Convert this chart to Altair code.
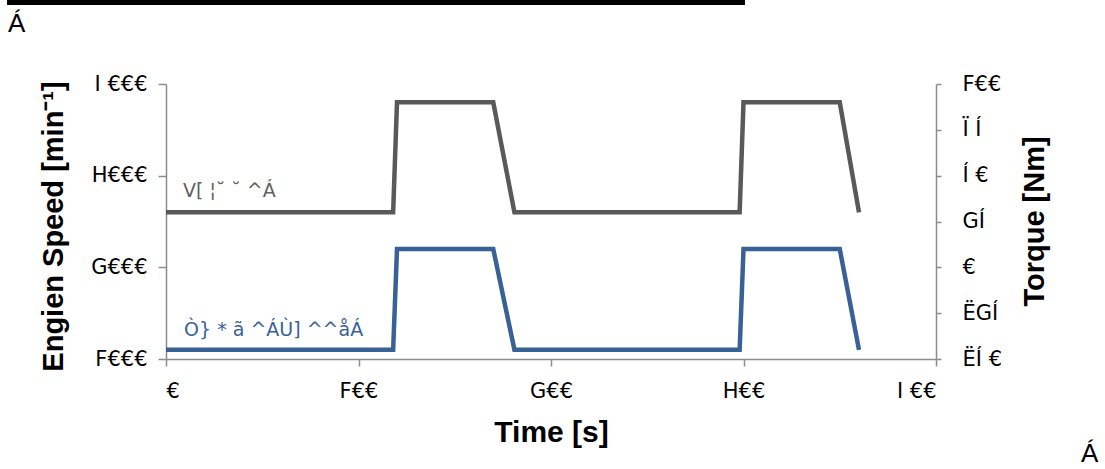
import altair as alt
import pandas as pd

# Cycle profile: engine speed (left axis) and torque (right axis) over time
time_s = [0, 118, 120, 170, 181, 298, 300, 350, 360]
speed_rpm = [1100, 1100, 2200, 2200, 1100, 1100, 2200, 2200, 1100]
torque_nm = [30, 30, 90, 90, 30, 30, 90, 90, 30]

# Tick values and the label strings shown for them
x_ticks = [0, 100, 200, 300, 400]
x_tick_labels = ["€", "F€€", "G€€", "H€€", "I €€"]
speed_ticks = [1000, 2000, 3000, 4000]
speed_tick_labels = ["F€€€", "G€€€", "H€€€", "I €€€"]
torque_ticks = [-50, -25, 0, 25, 50, 75, 100]
torque_tick_labels = ["ËÍ €", "ËGÍ", "€", "GÍ", "Í €", "Ï Í", "F€€"]

speed_series_label = "Ò} * ã ^ÁÙ] ^^åÁ"
torque_series_label = "V[ ¦˘ ˘ ^Á"

GRAY = "#595959"
BLUE = "#386195"
AXIS = "#8c8c8c"
FONT = "Liberation Sans"
LABEL_FONT = "DejaVu Sans"

df = pd.DataFrame({"t": time_s, "speed": speed_rpm, "torque": torque_nm})


def label_expr(values, labels):
    expr = "''"
    for v, l in zip(values, labels):
        expr = f"datum.value == {v} ? '{l}' : ({expr})"
    return expr


x_enc = alt.X(
    "t:Q",
    scale=alt.Scale(domain=[0, 400], nice=False),
    axis=alt.Axis(
        values=x_ticks,
        labelExpr=label_expr(x_ticks, x_tick_labels),
        title="Time [s]",
        titleFontSize=30,
        titleFont=FONT,
        titleFontWeight="bold",
        titleY=82,
        titleBaseline="alphabetic",
        labelPadding=14,
        tickSize=7,
    ),
)

speed_line = alt.Chart(df).mark_line(color=BLUE, strokeWidth=4.5).encode(
    x=x_enc,
    y=alt.Y(
        "speed:Q",
        scale=alt.Scale(domain=[1000, 4000], nice=False),
        axis=alt.Axis(
            orient="left",
            values=speed_ticks,
            labelExpr=label_expr(speed_ticks, speed_tick_labels),
            title="Engien Speed [min⁻¹]",
            titleFontSize=29,
            titleFont=FONT,
            titleFontWeight="bold",
            titleAngle=-90,
            titleAlign="center",
            titleBaseline="alphabetic",
            titleX=-104,
            titleY=142,
            labelPadding=11,
            tickSize=8,
        ),
    ),
)

label_src = alt.Data(values=[{"k": 0}])

speed_label = alt.Chart(label_src).mark_text(
    text=speed_series_label, color=BLUE, font=LABEL_FONT, fontSize=19,
    align="left", baseline="alphabetic",
).encode(x=alt.datum(9.4), y=alt.datum(1254))

# Thin frame decorations around the figure
top_bar = alt.Chart(label_src).mark_rule(color="black", strokeWidth=5).encode(
    x=alt.value(7 - 166), x2=alt.value(745 - 166), y=alt.value(2.5 - 84)
)
mark_tl = alt.Chart(label_src).mark_text(
    text="Á", font=FONT, fontSize=26, align="left", baseline="alphabetic", color="black"
).encode(x=alt.value(8 - 166), y=alt.value(32 - 84))
mark_br = alt.Chart(label_src).mark_text(
    text="Á", font=FONT, fontSize=26, align="left", baseline="alphabetic", color="black"
).encode(x=alt.value(1081 - 166), y=alt.value(462 - 84))

left = alt.layer(speed_line, speed_label, top_bar, mark_tl, mark_br)

torque_line = alt.Chart(df).mark_line(color=GRAY, strokeWidth=4.5).encode(
    x=x_enc,
    y=alt.Y(
        "torque:Q",
        scale=alt.Scale(domain=[-50, 100], nice=False),
        axis=alt.Axis(
            orient="right",
            values=torque_ticks,
            labelExpr=label_expr(torque_ticks, torque_tick_labels),
            title="Torque [Nm]",
            titleFontSize=29,
            titleFont=FONT,
            titleFontWeight="bold",
            titleAngle=-90,
            titleAlign="center",
            titleBaseline="alphabetic",
            titleX=107,
            titleY=137,
            labelPadding=21,
            tickSize=5,
        ),
    ),
)

torque_label = alt.Chart(label_src).mark_text(
    text=torque_series_label, color="#606060", font=LABEL_FONT, fontSize=19,
    align="left", baseline="alphabetic",
).encode(x=alt.datum(8.8), y=alt.datum(38.1))

right = alt.layer(torque_line, torque_label)

chart = (
    alt.layer(left, right)
    .resolve_scale(y="independent")
    .properties(
        width=770,
        height=275,
        autosize=alt.AutoSizeParams(type="none"),
        padding={"left": 166, "top": 84, "right": 169, "bottom": 110},
        background="white",
    )
    .configure_view(stroke=None)
    .configure_axis(
        grid=False,
        domainColor=AXIS,
        domainWidth=1.5,
        tickColor=AXIS,
        tickWidth=1.5,
        labelFont=LABEL_FONT,
        labelFontSize=21,
        labelColor="black",
        titleColor="black",
    )
)

chart.save("out.html", embed_options={"renderer": "svg", "actions": False})
